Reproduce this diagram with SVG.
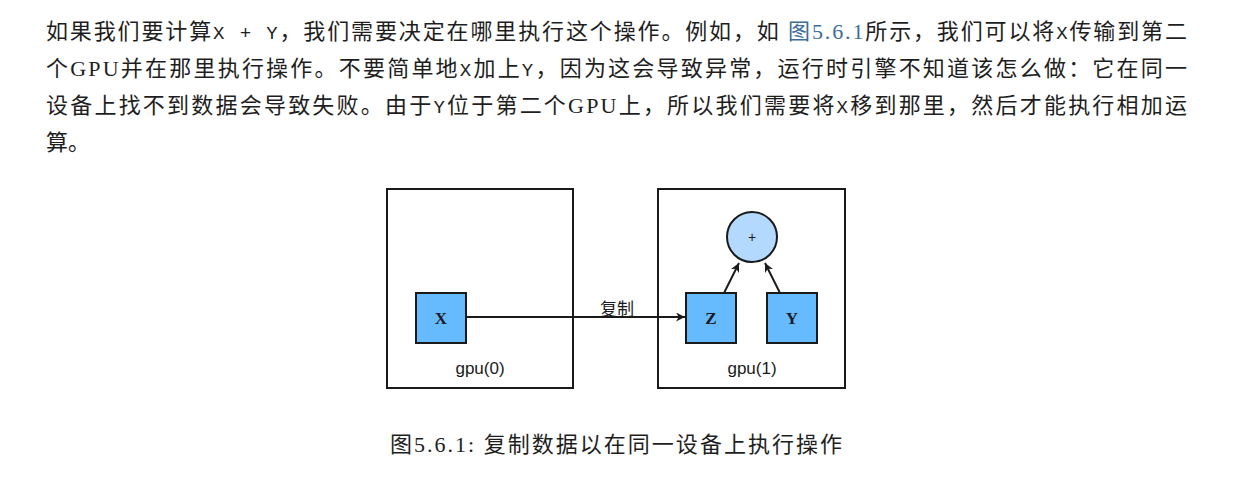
<svg xmlns="http://www.w3.org/2000/svg" width="1233" height="478" viewBox="0 0 1233 478">
<defs>
<style>
.body{font-family:"Liberation Serif","Noto Sans CJK SC",serif;font-size:22px;fill:#1e1e1e}
.mono{font-family:"Liberation Mono","Noto Sans CJK SC",monospace;font-size:19px}
.link{fill:#3d6d96}
.frame{fill:#fff;stroke:#1a1a1a;stroke-width:2}
.tensor{fill:#66bbff;stroke:#1a1a1a;stroke-width:2}
.op{fill:#b3d9ff;stroke:#1a1a1a;stroke-width:2}
.lbl{font-family:"Liberation Serif",serif;font-weight:bold;font-size:17px;fill:#1a1a2a;text-anchor:middle}
.dev{font-family:"Liberation Sans","Noto Sans CJK SC",sans-serif;font-size:17px;fill:#1a1a1a;text-anchor:middle}
.edge{stroke:#1a1a1a;stroke-width:2;fill:none;marker-end:url(#ah)}
.cap{font-family:"Liberation Serif","Noto Sans CJK SC",serif;font-size:22px;fill:#1e1e1e}
</style>
<marker id="ah" viewBox="0 0 10 10" refX="10" refY="5" markerWidth="9" markerHeight="9" markerUnits="userSpaceOnUse" orient="auto">
<path d="M0,0 L10,5 L0,10 L3,5 z" fill="#1a1a1a"/>
</marker>
</defs>
<rect width="1233" height="478" fill="#fff"/>
<g id="paragraph">
<text class="body" x="46" y="39" textLength="1141" lengthAdjust="spacing">如果我们要计算<tspan class="mono">X + Y</tspan>，我们需要决定在哪里执行这个操作。例如，如 <tspan class="link">图5.6.1</tspan>所示，我们可以将<tspan class="mono">X</tspan>传输到第二</text>
<text class="body" x="46" y="76" textLength="1141" lengthAdjust="spacing">个GPU并在那里执行操作。不要简单地<tspan class="mono">X</tspan>加上<tspan class="mono">Y</tspan>，因为这会导致异常，运行时引擎不知道该怎么做：它在同一</text>
<text class="body" x="46" y="113" textLength="1141" lengthAdjust="spacing">设备上找不到数据会导致失败。由于<tspan class="mono">Y</tspan>位于第二个GPU上，所以我们需要将<tspan class="mono">X</tspan>移到那里，然后才能执行相加运</text>
<text class="body" x="46" y="150">算。</text>
</g>
<g id="gpu0">
<rect class="frame" x="387" y="189" width="186" height="199"/>
<text class="dev" x="480" y="374">gpu(0)</text>
</g>
<g id="gpu1">
<rect class="frame" x="658" y="189" width="187" height="199"/>
<text class="dev" x="752" y="374">gpu(1)</text>
</g>
<g id="connectors">
<line class="edge" x1="466" y1="317" x2="685" y2="317"/>
<line class="edge" x1="724" y1="293" x2="739" y2="263"/>
<line class="edge" x1="780" y1="293" x2="765" y2="263"/>
<text class="dev" x="617" y="315" style="font-family:'Noto Sans CJK SC',sans-serif;font-size:17px">复制</text>
</g>
<g id="nodeX">
<rect class="tensor" x="416" y="293" width="50" height="50"/>
<text class="lbl" x="441" y="324">X</text>
</g>
<g id="nodeZ">
<rect class="tensor" x="686" y="293" width="50" height="50"/>
<text class="lbl" x="711" y="324">Z</text>
</g>
<g id="nodeY">
<rect class="tensor" x="767" y="293" width="50" height="50"/>
<text class="lbl" x="792" y="324">Y</text>
</g>
<g id="nodePlus">
<circle class="op" cx="752" cy="237" r="25"/>
<text x="752" y="242" style="font-family:'Liberation Sans',sans-serif;font-size:14px;fill:#1a1a1a;text-anchor:middle">+</text>
</g>
<g id="caption">
<text class="cap" x="390" y="452" textLength="452" lengthAdjust="spacing">图5.6.1: 复制数据以在同一设备上执行操作</text>
</g>
</svg>
